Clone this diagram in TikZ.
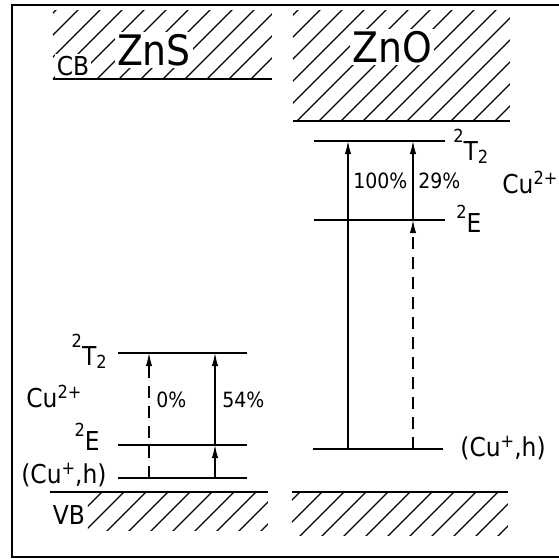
\documentclass[tikz,border=0pt]{standalone}
\usepackage{fontspec}
\setmainfont{DejaVu Sans Condensed}
\usetikzlibrary{arrows.meta}
\newcommand\hi[2][7pt]{\raisebox{#1}{\fontsize{9}{10}\selectfont#2}}
\newcommand\lo[1]{\raisebox{-1.5pt}{\fontsize{9}{10}\selectfont#1}}
\newcommand\hatch[4]{\begin{scope}
  \clip (#1,#2) rectangle (#3,#4);
  \foreach \k in {0,22,...,1122} \draw[hatchline] (\k-560,560) -- (\k,0);
 \end{scope}}

\begin{document}
\begin{tikzpicture}[x=0.5pt,y=-0.5pt,
  level/.style={line width=0.9pt},
  bandedge/.style={line width=1.3pt},
  hatchline/.style={line width=0.6pt},
  arr/.style={line width=0.6pt,-{Latex[length=6.5pt,width=3.2pt]}},
  brokenarr/.style={arr,dash pattern=on 6pt off 4pt},
  lbl/.style={font=\fontsize{13}{15}\selectfont,inner sep=1pt},
  pct/.style={font=\fontsize{10.5}{12}\selectfont,inner sep=1pt},
  big/.style={font=\fontsize{21}{24}\selectfont,inner sep=1pt}]
 \useasboundingbox (0,0) rectangle (559,559);
 \draw[line width=1pt] (559,5) -- (12,5) -- (12,557) -- (559,557);
 \hatch{53}{10}{272}{79}
 \hatch{293}{10}{510}{121}
 \hatch{88}{492}{268}{530}
 \hatch{292}{492}{508}{535}
 \draw[bandedge] (53,79) -- (272,79);
 \draw[bandedge] (293,121) -- (510,121);
 \draw[bandedge] (50,492) -- (268,492);
 \draw[bandedge] (292,492) -- (508,492);
 \node[lbl,fill=white] (cbS) at (73,66) {CB};
 \node[big,fill=white] (nameS) at (154,50) {ZnS};
 \node[big,fill=white] (nameO) at (392,47) {ZnO};
 \node[lbl,fill=white] (vbS) at (69,515) {VB};
 % ZnS
 \coordinate (sT2a) at (118,353); \coordinate (sT2b) at (247,353);
 \coordinate (sEa) at (118,445); \coordinate (sEb) at (247,445);
 \coordinate (sHa) at (118,478); \coordinate (sHb) at (247,478);
 \draw[level] (sT2a) -- (sT2b);
 \draw[level] (sEa) -- (sEb);
 \draw[level] (sHa) -- (sHb);
 \coordinate (s0lo) at (149,478); \coordinate (s0hi) at (149,353);
 \coordinate (s1lo) at (215,478); \coordinate (s1mid) at (215,445); \coordinate (s1hi) at (215,353);
 \draw[brokenarr] (s0lo) -- (s0hi);
 \draw[arr] (s1lo) -- (s1mid);
 \draw[arr] (s1mid) -- (s1hi);
 \node[lbl,anchor=base east] (sT2lbl) at (109,365) {\hi[9pt]{2}T\lo{2}};
 \node[lbl,anchor=base west] (sCu) at (24,407) {Cu\hi[4.5pt]{2+}};
 \node[lbl,anchor=base east] (sElbl) at (102,450) {\hi{2}E};
 \node[lbl,anchor=east] (sHlbl) at (109,475) {(Cu\hi[4.5pt]{+},h)};
 \node[pct,anchor=west] (s0pct) at (154,400) {0\%};
 \node[pct,anchor=west] (s1pct) at (220,400) {54\%};
 % ZnO
 \coordinate (zT2a) at (314,141); \coordinate (zT2b) at (445,141);
 \coordinate (zEa) at (314,220); \coordinate (zEb) at (445,220);
 \coordinate (zHa) at (313,449); \coordinate (zHb) at (443,449);
 \draw[level] (zT2a) -- (zT2b);
 \draw[level] (zEa) -- (zEb);
 \draw[level] (zHa) -- (zHb);
 \coordinate (z0lo) at (348,449); \coordinate (z0hi) at (348,141);
 \coordinate (z1lo) at (413,449); \coordinate (z1mid) at (413,220); \coordinate (z1hi) at (413,141);
 \draw[arr] (z0lo) -- (z0hi);
 \draw[brokenarr] (z1lo) -- (z1mid);
 \draw[arr] (z1mid) -- (z1hi);
 \node[lbl,anchor=base west] (zT2lbl) at (451,160) {\hi[9pt]{2}T\lo{2}};
 \node[lbl,anchor=base west] (zElbl) at (454,232) {\hi{2}E};
 \node[lbl,anchor=base west] (zCu) at (500,193) {Cu\hi[4.5pt]{2+}};
 \node[lbl,anchor=west] (zHlbl) at (458,448) {(Cu\hi[4.5pt]{+},h)};
 \node[pct,anchor=west] (z0pct) at (351,181) {100\%};
 \node[pct,anchor=west] (z1pct) at (416,181) {29\%};
\end{tikzpicture}
\end{document}
